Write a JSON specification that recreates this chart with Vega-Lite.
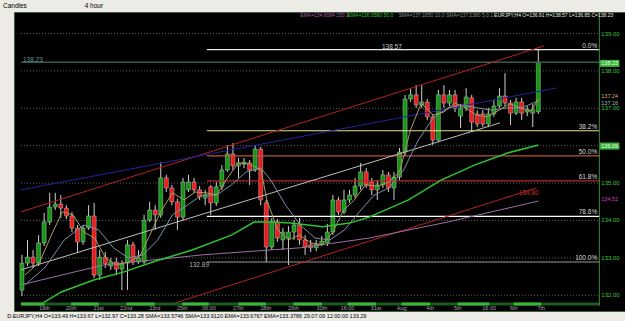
{
"$schema":"https://vega.github.io/schema/vega-lite/v6.json",
"width":611,"height":299,
"autosize":{"type":"none"},
"padding":{"left":14,"top":12,"right":0,"bottom":10},
"background":"#ecebe6",
"config":{"view":{"fill":"#000000","stroke":"#3f5f3f"},"font":"Liberation Sans"},
"title":{"text":"Candles\u00a0\u00a0\u00a0\u00a0\u00a0\u00a0\u00a0\u00a0\u00a0\u00a0\u00a0\u00a0\u00a0\u00a0\u00a0\u00a0\u00a0\u00a0\u00a0\u00a0\u00a0\u00a0\u00a0\u00a0\u00a0\u00a0\u00a0\u00a0\u00a0\u00a0\u00a0\u00a04 hour","anchor":"start","frame":"group","fontSize":6.5,"fontWeight":"normal","color":"#000000","offset":2,"dx":-11},
"resolve":{"scale":{"color":"independent"}},
"datasets":{
"candles":[
{"i":1,"o":132.14,"h":133.08,"l":131.98,"c":132.86},
{"i":2,"o":132.86,"h":133.48,"l":132.78,"c":133.02},
{"i":3,"o":133.02,"h":133.21,"l":132.73,"c":132.86},
{"i":4,"o":132.86,"h":133.61,"l":132.78,"c":133.40},
{"i":5,"o":133.40,"h":134.20,"l":133.32,"c":133.96},
{"i":6,"o":133.96,"h":134.74,"l":133.88,"c":134.36},
{"i":7,"o":134.36,"h":134.74,"l":134.28,"c":134.44},
{"i":8,"o":134.44,"h":134.68,"l":134.07,"c":134.33},
{"i":9,"o":134.33,"h":134.41,"l":134.04,"c":134.12},
{"i":10,"o":134.12,"h":134.23,"l":133.69,"c":133.80},
{"i":11,"o":133.80,"h":133.88,"l":133.16,"c":133.43},
{"i":12,"o":133.43,"h":133.88,"l":133.35,"c":133.80},
{"i":13,"o":133.80,"h":134.41,"l":133.75,"c":134.12},
{"i":14,"o":134.12,"h":134.47,"l":132.46,"c":132.54},
{"i":15,"o":132.54,"h":133.21,"l":132.41,"c":133.02},
{"i":16,"o":133.02,"h":133.16,"l":132.73,"c":132.84},
{"i":17,"o":132.78,"h":133.00,"l":132.68,"c":132.89},
{"i":18,"o":132.89,"h":133.00,"l":132.54,"c":132.70},
{"i":19,"o":132.70,"h":132.94,"l":132.14,"c":132.84},
{"i":20,"o":132.86,"h":133.48,"l":132.14,"c":133.35},
{"i":21,"o":133.35,"h":133.43,"l":132.81,"c":132.89},
{"i":22,"o":132.89,"h":133.21,"l":132.84,"c":133.00},
{"i":23,"o":132.89,"h":134.15,"l":132.84,"c":134.01},
{"i":24,"o":134.01,"h":134.50,"l":133.96,"c":134.28},
{"i":25,"o":134.28,"h":134.41,"l":133.75,"c":134.15},
{"i":26,"o":134.15,"h":135.56,"l":134.07,"c":135.14},
{"i":27,"o":135.14,"h":135.22,"l":134.76,"c":134.87},
{"i":28,"o":134.87,"h":134.95,"l":134.41,"c":134.50},
{"i":29,"o":134.50,"h":134.58,"l":133.75,"c":134.09},
{"i":30,"o":134.09,"h":135.14,"l":134.01,"c":135.03},
{"i":31,"o":134.82,"h":135.22,"l":134.76,"c":135.03},
{"i":32,"o":135.03,"h":135.14,"l":134.74,"c":134.82},
{"i":33,"o":134.82,"h":134.92,"l":134.55,"c":134.63},
{"i":34,"o":134.60,"h":134.82,"l":134.41,"c":134.68},
{"i":35,"o":134.90,"h":134.95,"l":134.15,"c":134.47},
{"i":36,"o":134.47,"h":135.03,"l":134.39,"c":134.90},
{"i":37,"o":134.90,"h":135.48,"l":134.82,"c":135.35},
{"i":38,"o":135.35,"h":136.02,"l":135.30,"c":135.78},
{"i":39,"o":135.78,"h":136.07,"l":135.35,"c":135.46},
{"i":40,"o":135.46,"h":135.67,"l":135.14,"c":135.54},
{"i":41,"o":135.51,"h":135.67,"l":135.40,"c":135.56},
{"i":42,"o":135.54,"h":135.62,"l":134.95,"c":135.35},
{"i":43,"o":135.35,"h":136.02,"l":135.30,"c":135.91},
{"i":44,"o":135.91,"h":135.97,"l":134.41,"c":134.55},
{"i":45,"o":134.47,"h":134.55,"l":132.89,"c":133.29},
{"i":46,"o":133.29,"h":134.07,"l":133.21,"c":133.96},
{"i":47,"o":133.96,"h":134.04,"l":133.43,"c":133.53},
{"i":48,"o":133.48,"h":133.80,"l":133.21,"c":133.69},
{"i":49,"o":133.53,"h":133.85,"l":132.81,"c":133.69},
{"i":50,"o":133.69,"h":134.01,"l":133.48,"c":133.88},
{"i":51,"o":133.88,"h":134.07,"l":133.35,"c":133.48},
{"i":52,"o":133.48,"h":133.61,"l":133.08,"c":133.29},
{"i":53,"o":133.35,"h":133.48,"l":133.16,"c":133.27},
{"i":54,"o":133.27,"h":133.48,"l":133.18,"c":133.37},
{"i":55,"o":133.37,"h":133.59,"l":133.32,"c":133.45},
{"i":56,"o":133.40,"h":133.91,"l":133.32,"c":133.69},
{"i":57,"o":133.69,"h":134.68,"l":133.61,"c":134.55},
{"i":58,"o":134.55,"h":134.63,"l":134.15,"c":134.23},
{"i":59,"o":134.23,"h":134.82,"l":134.17,"c":134.55},
{"i":60,"o":134.55,"h":134.82,"l":134.47,"c":134.68},
{"i":61,"o":134.68,"h":135.14,"l":134.60,"c":134.92},
{"i":62,"o":134.92,"h":135.54,"l":134.82,"c":135.30},
{"i":63,"o":135.30,"h":135.40,"l":134.87,"c":134.95},
{"i":64,"o":135.03,"h":135.14,"l":134.68,"c":134.82},
{"i":65,"o":134.82,"h":135.08,"l":134.55,"c":134.95},
{"i":66,"o":134.95,"h":135.35,"l":134.87,"c":135.22},
{"i":67,"o":135.22,"h":135.30,"l":134.76,"c":134.87},
{"i":68,"o":134.87,"h":135.30,"l":134.55,"c":135.16},
{"i":69,"o":135.16,"h":135.94,"l":135.08,"c":135.83},
{"i":70,"o":135.83,"h":137.36,"l":135.75,"c":137.25},
{"i":71,"o":137.25,"h":137.52,"l":137.17,"c":137.36},
{"i":72,"o":137.36,"h":137.62,"l":137.01,"c":137.09},
{"i":73,"o":137.09,"h":137.62,"l":137.01,"c":137.17},
{"i":74,"o":137.17,"h":137.25,"l":136.69,"c":136.77},
{"i":75,"o":136.77,"h":136.85,"l":136.02,"c":136.15},
{"i":76,"o":136.15,"h":137.49,"l":136.10,"c":137.36},
{"i":77,"o":137.36,"h":137.62,"l":137.01,"c":137.14},
{"i":78,"o":137.14,"h":137.49,"l":137.06,"c":137.36},
{"i":79,"o":137.36,"h":137.49,"l":136.90,"c":137.01},
{"i":80,"o":136.79,"h":137.12,"l":136.47,"c":137.01},
{"i":81,"o":137.01,"h":137.54,"l":136.93,"c":137.30},
{"i":82,"o":137.28,"h":137.36,"l":136.37,"c":136.63},
{"i":83,"o":136.85,"h":136.95,"l":136.50,"c":136.58},
{"i":84,"o":136.85,"h":136.95,"l":136.50,"c":136.58},
{"i":85,"o":136.58,"h":137.01,"l":136.50,"c":136.85},
{"i":86,"o":136.85,"h":137.22,"l":136.77,"c":137.06},
{"i":87,"o":137.06,"h":137.54,"l":137.01,"c":137.33},
{"i":88,"o":137.33,"h":137.94,"l":137.06,"c":137.14},
{"i":89,"o":137.14,"h":137.22,"l":136.55,"c":136.87},
{"i":90,"o":136.87,"h":137.28,"l":136.82,"c":137.17},
{"i":91,"o":137.17,"h":137.28,"l":136.69,"c":136.87},
{"i":92,"o":136.90,"h":137.06,"l":136.79,"c":136.96},
{"i":93,"o":136.87,"h":137.12,"l":136.50,"c":136.96},
{"i":94,"o":136.91,"h":138.57,"l":136.85,"c":138.23}
],
"grid":[{"p":132},{"p":133},{"p":134},{"p":135},{"p":136},{"p":137},{"p":138},{"p":139}],
"fib":[{"lv":"0.0%","p":138.57},{"lv":"38.2%","p":136.40},{"lv":"50.0%","p":135.73},{"lv":"61.8%","p":135.06},{"lv":"78.6%","p":134.11},{"lv":"100.0%","p":132.89}],
"trend":[
{"s":"ch_red","i":0.823,"p":134.23},{"s":"ch_red","i":95.07,"p":138.67},
{"s":"ch_blue","i":0.823,"p":134.82},{"s":"ch_blue","i":97.19,"p":137.54},
{"s":"ch_mid","i":0.823,"p":132.68},{"s":"ch_mid","i":87.09,"p":136.61},
{"s":"ch_low","i":28.46,"p":131.79},{"s":"ch_low","i":93.65,"p":134.87},
{"s":"ema150","i":0.823,"p":132.28},{"s":"ema150","i":15.70,"p":132.81},{"s":"ema150","i":33.42,"p":133.08},{"s":"ema150","i":51.13,"p":133.27},{"s":"ema150","i":63.53,"p":133.53},{"s":"ema150","i":77.70,"p":133.96},{"s":"ema150","i":94.00,"p":134.52},
{"s":"sma10","i":1.53,"p":132.28},{"s":"sma10","i":5.07,"p":132.73},{"s":"sma10","i":8.62,"p":133.48},{"s":"sma10","i":12.16,"p":133.88},{"s":"sma10","i":14.82,"p":133.75},{"s":"sma10","i":17.47,"p":133.27},{"s":"sma10","i":20.13,"p":133.00},{"s":"sma10","i":22.79,"p":133.08},{"s":"sma10","i":25.45,"p":133.48},{"s":"sma10","i":28.10,"p":134.15},{"s":"sma10","i":30.76,"p":134.41},{"s":"sma10","i":33.42,"p":134.68},{"s":"sma10","i":36.07,"p":134.68},{"s":"sma10","i":38.73,"p":134.95},{"s":"sma10","i":41.39,"p":135.30},{"s":"sma10","i":44.05,"p":135.40},{"s":"sma10","i":45.82,"p":135.08},{"s":"sma10","i":48.48,"p":134.41},{"s":"sma10","i":51.13,"p":133.88},{"s":"sma10","i":53.79,"p":133.53},{"s":"sma10","i":56.45,"p":133.48},{"s":"sma10","i":59.10,"p":133.75},{"s":"sma10","i":61.76,"p":134.23},{"s":"sma10","i":64.42,"p":134.68},{"s":"sma10","i":67.07,"p":134.87},{"s":"sma10","i":69.73,"p":135.35},{"s":"sma10","i":72.39,"p":136.15},{"s":"sma10","i":75.05,"p":136.74},{"s":"sma10","i":77.70,"p":137.01},{"s":"sma10","i":80.36,"p":137.09},{"s":"sma10","i":83.02,"p":137.01},{"s":"sma10","i":85.68,"p":136.95},{"s":"sma10","i":88.33,"p":137.01},{"s":"sma10","i":90.99,"p":137.01},{"s":"sma10","i":94.00,"p":137.20},
{"s":"sma5","i":1.53,"p":132.54},{"s":"sma5","i":4.19,"p":132.89},{"s":"sma5","i":6.31,"p":133.61},{"s":"sma5","i":8.26,"p":134.23},{"s":"sma5","i":10.21,"p":134.15},{"s":"sma5","i":12.16,"p":133.69},{"s":"sma5","i":14.11,"p":133.53},{"s":"sma5","i":16.06,"p":133.00},{"s":"sma5","i":18.01,"p":132.81},{"s":"sma5","i":20.13,"p":132.89},{"s":"sma5","i":22.26,"p":133.05},{"s":"sma5","i":24.03,"p":133.61},{"s":"sma5","i":25.98,"p":134.23},{"s":"sma5","i":28.10,"p":134.74},{"s":"sma5","i":30.23,"p":134.55},{"s":"sma5","i":32.18,"p":134.76},{"s":"sma5","i":34.13,"p":134.74},{"s":"sma5","i":36.07,"p":134.68},{"s":"sma5","i":38.02,"p":135.14},{"s":"sma5","i":39.97,"p":135.54},{"s":"sma5","i":41.92,"p":135.51},{"s":"sma5","i":44.05,"p":135.35},{"s":"sma5","i":45.11,"p":134.55},{"s":"sma5","i":47.06,"p":133.75},{"s":"sma5","i":49.01,"p":133.48},{"s":"sma5","i":50.96,"p":133.61},{"s":"sma5","i":53.08,"p":133.40},{"s":"sma5","i":55.03,"p":133.35},{"s":"sma5","i":56.98,"p":133.69},{"s":"sma5","i":58.93,"p":134.28},{"s":"sma5","i":60.88,"p":134.55},{"s":"sma5","i":62.82,"p":134.95},{"s":"sma5","i":65.13,"p":134.92},{"s":"sma5","i":67.07,"p":135.03},{"s":"sma5","i":69.02,"p":135.30},{"s":"sma5","i":70.97,"p":136.42},{"s":"sma5","i":72.92,"p":137.14},{"s":"sma5","i":75.05,"p":136.82},{"s":"sma5","i":76.99,"p":136.90},{"s":"sma5","i":78.94,"p":137.14},{"s":"sma5","i":80.89,"p":137.01},{"s":"sma5","i":82.84,"p":136.82},{"s":"sma5","i":84.79,"p":136.77},{"s":"sma5","i":86.92,"p":136.95},{"s":"sma5","i":88.86,"p":137.12},{"s":"sma5","i":90.81,"p":137.01},{"s":"sma5","i":92.76,"p":136.93},{"s":"sma5","i":94.00,"p":137.25}
],
"ema50":[
{"i":4.72,"p":131.79},{"i":8.09,"p":132.09},{"i":13.93,"p":132.41},{"i":19.25,"p":132.62},{"i":24.56,"p":132.89},{"i":31.65,"p":133.21},{"i":38.73,"p":133.61},{"i":42.81,"p":133.96},{"i":45.82,"p":133.96},{"i":49.36,"p":133.93},{"i":55.21,"p":133.83},{"i":59.99,"p":133.93},{"i":63.53,"p":134.09},{"i":70.62,"p":134.55},{"i":76.48,"p":135.08},{"i":82.49,"p":135.48},{"i":88.33,"p":135.80},{"i":94.00,"p":136.02}
],
"days":[
{"i":5.07,"t":"19th"},{"i":9.86,"t":"20th"},{"i":14.82,"t":"21st"},{"i":19.78,"t":"22nd"},{"i":24.92,"t":"23rd"},{"i":29.88,"t":"25th"},{"i":34.66,"t":"06:00"},{"i":39.97,"t":"27th"},{"i":44.93,"t":"28th"},{"i":49.89,"t":"29th"},{"i":55.03,"t":"30th"},{"i":59.64,"t":"16:00"},{"i":64.77,"t":"31st"},{"i":69.38,"t":"Aug"},{"i":74.52,"t":"4th"},{"i":79.48,"t":"5th"},{"i":85.15,"t":"16:00"},{"i":89.57,"t":"6th"},{"i":94.53,"t":"7th"}
],
"strip":[
{"a":0.823,"b":5.07},{"a":9.86,"b":14.82},{"a":19.78,"b":24.92},{"a":29.88,"b":34.66},{"a":39.97,"b":44.93},{"a":49.89,"b":55.03},{"a":59.64,"b":64.77},{"a":69.38,"b":74.52},{"a":79.48,"b":85.15},{"a":89.57,"b":94.53}
],
"ticks":[{"p":132},{"p":133},{"p":134},{"p":135},{"p":137},{"p":138},{"p":139}],
"tags":[
{"k":"box","p":138.20,"t":"138.23"},{"k":"sma5","p":137.33,"t":"137.24"},{"k":"sma10","p":137.13,"t":"137.16"},{"k":"box","p":135.99,"t":"136.09"},{"k":"ema150","p":134.58,"t":"134.51"}
],
"hdr":[
{"s":"ema150","i":51.13,"t":"EMA=134.8084 150,0"},{"s":"ema50","i":59.64,"t":"EMA=136.0580 50,0"},{"s":"sma10","i":68.85,"t":"SMA=137.1650 10,0"},{"s":"sma5","i":77.35,"t":"SMA=137.2380 5,0,1"},{"s":"price","i":86.03,"t":"EURJPY,H4 O=136.91 H=138.57 L=136.85 C=138.23"}
],
"notes":[
{"k":"hi","i":65.84,"p":138.652,"t":"138.57"},{"k":"lo","i":31.11,"p":132.797,"t":"132.89"},{"k":"ch","i":90.46,"p":134.735,"t":"134.80"},{"k":"hl","i":1.18,"p":138.29,"t":"138.23"}
],
"status":[{"i":-1.657,"p":131.433,"t":"D:EURJPY,H4  O=133.49 H=133.67 L=132.97 C=133.28  SMA=133.5746 SMA=133.9120 EMA=133.6767 EMA=133.3786  29.07.09 12:00:00  133.29"}]
},
"layer":[
{"data":{"name":"grid"},"mark":{"type":"rule","color":"#5e5e5e","strokeDash":[1,2],"strokeWidth":1},
 "encoding":{"y":{"field":"p","type":"quantitative","scale":{"domain":[131.58,139.575],"nice":false,"zero":false},"axis":null},
  "x":{"datum":0.823,"type":"quantitative","scale":{"domain":[0.4686,108.71],"nice":false,"zero":false},"axis":null},"x2":{"datum":104.99}}},
{"data":{"name":"candles"},"mark":{"type":"rule","color":"#d0d0d0","strokeWidth":1},
 "encoding":{"x":{"field":"i","type":"quantitative","axis":null},"y":{"field":"l","type":"quantitative","axis":null},"y2":{"field":"h"}}},
{"data":{"name":"candles"},"mark":{"type":"bar","size":4,"stroke":"#bdbdbd","strokeWidth":0.5},
 "encoding":{"x":{"field":"i","type":"quantitative","axis":null},"y":{"field":"o","type":"quantitative","axis":null},"y2":{"field":"c"},
  "color":{"condition":{"test":"datum.c >= datum.o","value":"#0f9a0f"},"value":"#f01a1a"}}},
{"data":{"values":[{"p":138.23}]},"mark":{"type":"rule","color":"#3c5a52","strokeWidth":1.5},
 "encoding":{"y":{"field":"p","type":"quantitative","axis":null},"x":{"datum":0.823,"type":"quantitative","axis":null},"x2":{"datum":104.99}}},
{"data":{"name":"fib"},"mark":{"type":"rule","strokeWidth":1.2},
 "encoding":{"y":{"field":"p","type":"quantitative","axis":null},"x":{"datum":34.3,"type":"quantitative","axis":null},"x2":{"datum":104.99},
  "color":{"field":"lv","type":"nominal","legend":null,"scale":{"domain":["0.0%","38.2%","50.0%","61.8%","78.6%","100.0%"],"range":["#e6e6e6","#e2e28c","#b8583c","#b82828","#ffffff","#9a9a9a"]}}}},
{"data":{"name":"fib"},"mark":{"type":"text","align":"right","baseline":"bottom","dy":-1,"fontSize":6.5,"color":"#d8d8d8"},
 "encoding":{"y":{"field":"p","type":"quantitative","axis":null},"x":{"datum":104.6,"type":"quantitative","axis":null},"text":{"field":"lv"}}},
{"data":{"name":"trend"},"mark":{"type":"line","strokeWidth":1},
 "encoding":{"x":{"field":"i","type":"quantitative","axis":null},"y":{"field":"p","type":"quantitative","axis":null},
  "color":{"field":"s","type":"nominal","legend":null,"scale":{"domain":["ch_red","ch_blue","ch_mid","ch_low","ema150","sma10","sma5"],"range":["#b52222","#23239c","#bdbdbd","#b52222","#9c6fa3","#7d90a6","#a99c5c"]}}}},
{"data":{"name":"ema50"},"mark":{"type":"line","strokeWidth":1.5,"color":"#2fc42f"},
 "encoding":{"x":{"field":"i","type":"quantitative","axis":null},"y":{"field":"p","type":"quantitative","axis":null}}},
{"data":{"values":[{"a":0.823,"b":104.99}]},"mark":{"type":"rule","strokeWidth":3,"color":"#1d5a1d"},
 "encoding":{"x":{"field":"a","type":"quantitative","axis":null},"x2":{"field":"b"},"y":{"datum":131.767,"type":"quantitative","axis":null}}},
{"data":{"name":"strip"},"mark":{"type":"rule","strokeWidth":3,"color":"#38b838"},
 "encoding":{"x":{"field":"a","type":"quantitative","axis":null},"x2":{"field":"b"},"y":{"datum":131.767,"type":"quantitative","axis":null}}},
{"data":{"values":[{"a":131.72,"b":139.575}]},"mark":{"type":"rule","strokeWidth":1,"color":"#3c8c3c"},
 "encoding":{"y":{"field":"a","type":"quantitative","axis":null},"y2":{"field":"b"},"x":{"datum":104.99,"type":"quantitative","axis":null}}},
{"data":{"name":"days"},"mark":{"type":"text","fontSize":5.5,"color":"#a8a8a8","baseline":"middle","align":"center"},
 "encoding":{"x":{"field":"i","type":"quantitative","axis":null},"y":{"datum":131.67,"type":"quantitative","axis":null},"text":{"field":"t"}}},
{"data":{"name":"ticks"},"mark":{"type":"text","fontSize":6,"align":"left","baseline":"middle","color":"#38c838"},
 "encoding":{"y":{"field":"p","type":"quantitative","axis":null},"x":{"datum":105.34,"type":"quantitative","axis":null},"text":{"field":"p","type":"quantitative","format":".2f"}}},
{"data":{"name":"tags"},"transform":[{"filter":"datum.k == 'box'"}],"mark":{"type":"rule","strokeWidth":7,"color":"#3cb43c"},
 "encoding":{"y":{"field":"p","type":"quantitative","axis":null},"x":{"datum":105.1,"type":"quantitative","axis":null},"x2":{"datum":108.6}}},
{"data":{"name":"tags"},"mark":{"type":"text","fontSize":5.5,"align":"left","baseline":"middle"},
 "encoding":{"y":{"field":"p","type":"quantitative","axis":null},"x":{"datum":105.34,"type":"quantitative","axis":null},"text":{"field":"t"},
  "color":{"field":"k","type":"nominal","legend":null,"scale":{"domain":["box","sma5","sma10","ema150"],"range":["#e0ffe0","#c8b060","#a8b4c4","#d040d0"]}}}},
{"data":{"name":"hdr"},"mark":{"type":"text","fontSize":5,"align":"left","baseline":"middle"},
 "encoding":{"x":{"field":"i","type":"quantitative","axis":null},"y":{"datum":139.495,"type":"quantitative","axis":null},"text":{"field":"t"},
  "color":{"field":"s","type":"nominal","legend":null,"scale":{"domain":["ema150","ema50","sma10","sma5","price"],"range":["#a858a8","#2ec42e","#8a8aa0","#8c8c8c","#e8e8e8"]}}}},
{"data":{"name":"notes"},"mark":{"type":"text","fontSize":6.5,"align":"left","baseline":"middle"},
 "encoding":{"x":{"field":"i","type":"quantitative","axis":null},"y":{"field":"p","type":"quantitative","axis":null},"text":{"field":"t"},
  "color":{"field":"k","type":"nominal","legend":null,"scale":{"domain":["hi","lo","ch","hl"],"range":["#c8c8c8","#b0b0b0","#d03030","#5f9ea0"]}}}},
{"data":{"name":"status"},"mark":{"type":"text","fontSize":5.5,"align":"left","baseline":"middle","color":"#000000"},
 "encoding":{"x":{"field":"i","type":"quantitative","axis":null},"y":{"field":"p","type":"quantitative","axis":null},"text":{"field":"t"}}}
]
}
